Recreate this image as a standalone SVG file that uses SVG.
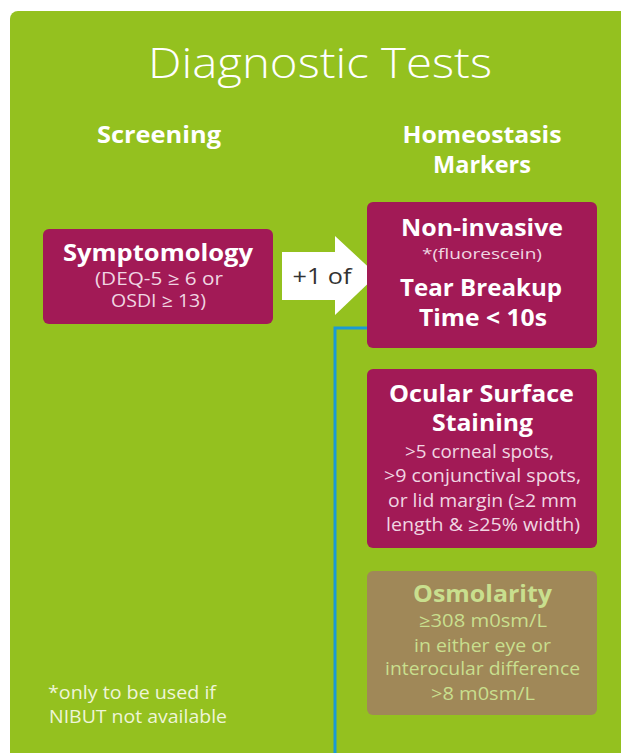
<svg xmlns="http://www.w3.org/2000/svg" width="621" height="753" viewBox="0 0 621 753">
<style>
text{font-family:"Open Sans","Liberation Sans",sans-serif;text-anchor:middle;fill:#fff}
.title{font-size:42px;font-weight:300}
.hdr{font-size:22.5px;font-weight:700}
.bold{font-size:23.5px;font-weight:700}
.sub{font-size:17.5px;fill:#f0d6e2}
.osm{fill:#c9df8e}
.box{fill:#a21a56}
.note{font-size:17.5px;text-anchor:start;fill:#eef5d8}
</style>
<rect x="0" y="0" width="621" height="753" fill="#fff"/>
<rect x="10" y="11" width="640" height="780" rx="8" fill="#94c11f"/>
<text class="title" x="320" y="78" textLength="344" lengthAdjust="spacingAndGlyphs">Diagnostic Tests</text>
<text class="hdr" x="159" y="143" textLength="124" lengthAdjust="spacingAndGlyphs">Screening</text>
<text class="hdr" x="482" y="143" textLength="159" lengthAdjust="spacingAndGlyphs">Homeostasis</text>
<text class="hdr" x="482" y="173" textLength="98" lengthAdjust="spacingAndGlyphs">Markers</text>
<g id="connectors">
<path d="M367 328 H335 V753" fill="none" stroke="#1a9ad6" stroke-width="3"/>
<g id="arrow">
<polygon points="282,252 335,252 335,236 377,275 335,315 335,300 282,300" fill="#fff"/>
<text x="322" y="284" textLength="59" lengthAdjust="spacingAndGlyphs" style="font-size:21px;fill:#333">+1 of</text>
</g>
</g>
<g id="symptomology">
<rect class="box" x="43" y="229" width="230" height="95" rx="6"/>
<text class="bold" x="158" y="261" textLength="190" lengthAdjust="spacingAndGlyphs">Symptomology</text>
<text class="sub" x="159" y="285" textLength="128" lengthAdjust="spacingAndGlyphs">(DEQ-5 ≥ 6 or</text>
<text class="sub" x="158.5" y="307" textLength="95" lengthAdjust="spacingAndGlyphs">OSDI ≥ 13)</text>
</g>
<g id="tbut">
<rect class="box" x="367" y="202" width="230" height="146" rx="6"/>
<text class="bold" x="482" y="236" textLength="162" lengthAdjust="spacingAndGlyphs">Non-invasive</text>
<text class="sub" x="482" y="259" textLength="120" lengthAdjust="spacingAndGlyphs" style="font-size:14px">*(fluorescein)</text>
<text class="bold" x="481" y="296" textLength="162" lengthAdjust="spacingAndGlyphs" style="font-size:23px">Tear Breakup</text>
<text class="bold" x="483" y="326" textLength="128" lengthAdjust="spacingAndGlyphs" style="font-size:23px">Time &lt; 10s</text>
</g>
<g id="staining">
<rect class="box" x="367" y="369" width="230" height="179" rx="6"/>
<text class="bold" x="481.5" y="402" textLength="185" lengthAdjust="spacingAndGlyphs">Ocular Surface</text>
<text class="bold" x="482.5" y="431" textLength="101" lengthAdjust="spacingAndGlyphs">Staining</text>
<text class="sub" x="479.5" y="458" textLength="149" lengthAdjust="spacingAndGlyphs">&gt;5 corneal spots,</text>
<text class="sub" x="482.5" y="482" textLength="197" lengthAdjust="spacingAndGlyphs">&gt;9 conjunctival spots,</text>
<text class="sub" x="482.5" y="507" textLength="189" lengthAdjust="spacingAndGlyphs">or lid margin (≥2 mm</text>
<text class="sub" x="483" y="531" textLength="194" lengthAdjust="spacingAndGlyphs">length &amp; ≥25% width)</text>
</g>
<g id="osmolarity">
<rect x="367" y="571" width="230" height="144" rx="6" fill="#a08858"/>
<text class="bold osm" x="482.5" y="602" textLength="139" lengthAdjust="spacingAndGlyphs">Osmolarity</text>
<text class="sub osm" x="483" y="627" textLength="128" lengthAdjust="spacingAndGlyphs">≥308 m0sm/L</text>
<text class="sub osm" x="482.5" y="652" textLength="137" lengthAdjust="spacingAndGlyphs">in either eye or</text>
<text class="sub osm" x="482.5" y="675" textLength="195" lengthAdjust="spacingAndGlyphs">interocular difference</text>
<text class="sub osm" x="483" y="700" textLength="104" lengthAdjust="spacingAndGlyphs">&gt;8 m0sm/L</text>
</g>
<g id="footnote">
<text class="note" x="48" y="699" textLength="168" lengthAdjust="spacingAndGlyphs">*only to be used if</text>
<text class="note" x="49" y="723" textLength="178" lengthAdjust="spacingAndGlyphs">NIBUT not available</text>
</g>
</svg>
